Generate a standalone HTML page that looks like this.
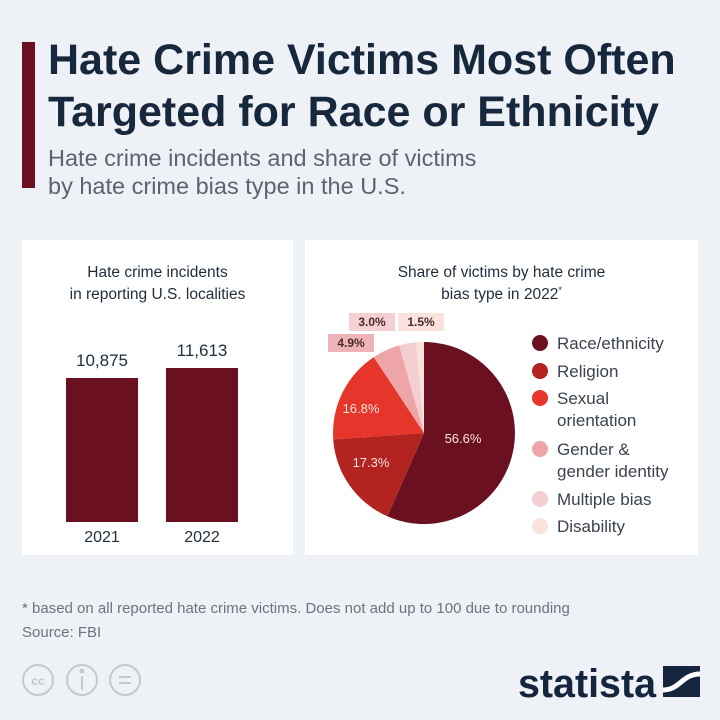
<!DOCTYPE html>
<html><head><meta charset="utf-8"><style>
body{margin:0;width:720px;height:720px;background:#eef1f6;font-family:"Liberation Sans",sans-serif;position:relative;overflow:hidden}
.a{position:absolute}
</style></head><body>
<div class="a" style="left:22px;top:42px;width:13px;height:146px;background:#6b1020"></div>
<div class="a" style="left:48px;top:34px;font-size:43px;font-weight:bold;color:#17283d;line-height:52px;white-space:nowrap">Hate Crime Victims Most Often<br>Targeted for Race or Ethnicity</div>
<div class="a" style="left:48px;top:144px;font-size:23.5px;color:#5a6472;line-height:28px;white-space:nowrap">Hate crime incidents and share of victims<br>by hate crime bias type in the U.S.</div>
<div class="a" style="left:22px;top:240px;width:271px;height:315px;background:#fff"></div>
<div class="a" style="left:305px;top:240px;width:393px;height:315px;background:#fff"></div>
<div class="a" style="left:22px;top:262px;width:271px;text-align:center;font-size:15.5px;color:#1f2d3d;line-height:22px">Hate crime incidents<br>in reporting U.S. localities</div>
<div class="a" style="left:66px;top:378px;width:72px;height:144px;background:#6b1020"></div>
<div class="a" style="left:166px;top:368px;width:72px;height:154px;background:#6b1020"></div>
<div class="a" style="left:52px;top:351px;width:100px;text-align:center;font-size:17px;color:#1f2d3d">10,875</div>
<div class="a" style="left:152px;top:341px;width:100px;text-align:center;font-size:17px;color:#1f2d3d">11,613</div>
<div class="a" style="left:52px;top:529px;width:100px;text-align:center;font-size:16px;color:#1f2d3d">2021</div>
<div class="a" style="left:152px;top:529px;width:100px;text-align:center;font-size:16px;color:#1f2d3d">2022</div>
<div class="a" style="left:305px;top:262px;width:393px;text-align:center;font-size:15.5px;color:#1f2d3d;line-height:22px">Share of victims by hate crime<br>bias type in 2022<span style="font-size:9px;position:relative;top:-6px">*</span></div>
<svg class="a" style="left:0;top:0" width="720" height="720">
<path d="M424,433 L424,342 A91,91 0 1,1 387.3,516.3 Z" fill="#6b1020"/>
<path d="M424,433 L387.3,516.3 A91,91 0 0,1 333.2,439.4 Z" fill="#b3231f"/>
<path d="M424,433 L333.2,439.4 A91,91 0 0,1 373.8,357.1 Z" fill="#e6352b"/>
<path d="M424,433 L373.8,357.1 A91,91 0 0,1 399.2,345.4 Z" fill="#eea5a8"/>
<path d="M424,433 L399.2,345.4 A91,91 0 0,1 416.1,342.3 Z" fill="#f4cfd2"/>
<path d="M424,433 L416.1,342.3 A91,91 0 0,1 424,342 Z" fill="#fae2dc"/>
<rect x="328" y="334" width="46" height="18" fill="#eeb3b6"/>
<rect x="349" y="313" width="46" height="18" fill="#f4d0d3"/>
<rect x="398" y="313" width="46" height="18" fill="#fbe2dc"/>
<g font-family="Liberation Sans" font-size="12" font-weight="bold" fill="#4a2a30" text-anchor="middle">
<text x="351" y="347">4.9%</text><text x="372" y="326">3.0%</text><text x="421" y="326">1.5%</text></g>
<g font-family="Liberation Sans" font-size="13" fill="#fbe3e0" text-anchor="middle">
<text x="463" y="443">56.6%</text><text x="371" y="467">17.3%</text><text x="361" y="413">16.8%</text></g>
<g font-family="Liberation Sans" font-size="17" fill="#3b4250">
<circle cx="540" cy="343" r="8" fill="#6b1020"/><text x="557" y="349">Race/ethnicity</text>
<circle cx="540" cy="371" r="8" fill="#b3231f"/><text x="557" y="377">Religion</text>
<circle cx="540" cy="398" r="8" fill="#e6352b"/><text x="557" y="404">Sexual</text><text x="557" y="426">orientation</text>
<circle cx="540" cy="449" r="8" fill="#eea5a8"/><text x="557" y="455">Gender &amp;</text><text x="557" y="477">gender identity</text>
<circle cx="540" cy="499" r="8" fill="#f4cfd2"/><text x="557" y="505">Multiple bias</text>
<circle cx="540" cy="526" r="8" fill="#fae2dc"/><text x="557" y="532">Disability</text>
</g>
<g fill="none" stroke="#c5c9cf" stroke-width="2">
<circle cx="38" cy="680" r="15"/><circle cx="82" cy="680" r="15"/><circle cx="125" cy="680" r="15"/>
<line x1="119" y1="677" x2="131" y2="677"/><line x1="119" y1="683" x2="131" y2="683"/>
<line x1="82" y1="676" x2="82" y2="690"/></g>
<circle cx="82" cy="671" r="2.5" fill="#c5c9cf"/>
<text x="38" y="685" font-family="Liberation Sans" font-size="12" font-weight="bold" fill="#c5c9cf" text-anchor="middle">cc</text>
<text x="518" y="697" font-family="Liberation Sans" font-size="40" font-weight="bold" fill="#14253d" textLength="138" lengthAdjust="spacingAndGlyphs">statista</text>
<rect x="663" y="666" width="37" height="31" fill="#14253d"/>
<path d="M663,690 C680,690 682,674 700,674" stroke="#fff" stroke-width="5" fill="none"/>
</svg>
<div class="a" style="left:22px;top:600px;font-size:15px;color:#6b7480;white-space:nowrap">* based on all reported hate crime victims. Does not add up to 100 due to rounding</div>
<div class="a" style="left:22px;top:624px;font-size:15px;color:#6b7480">Source: FBI</div>
</body></html>
